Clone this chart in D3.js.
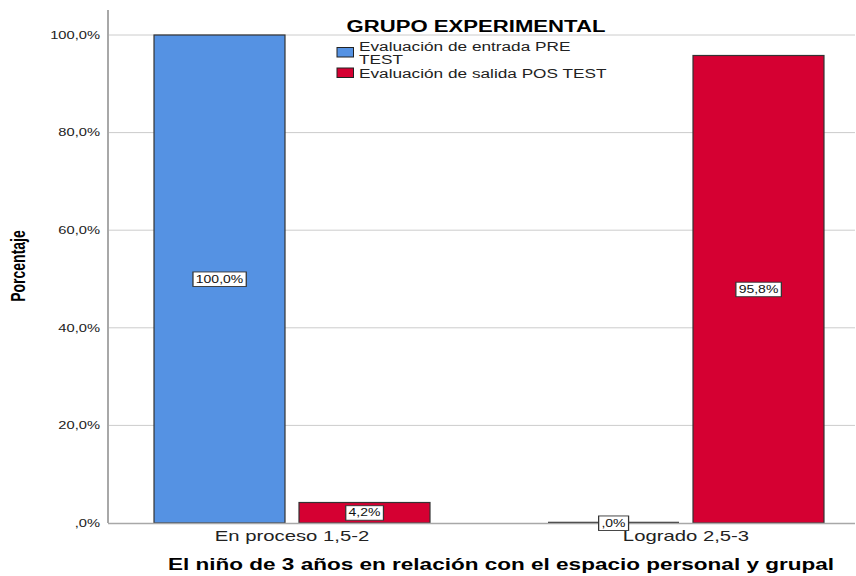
<!DOCTYPE html>
<html>
<head>
<meta charset="utf-8">
<script src="https://cdn.jsdelivr.net/npm/d3@7"></script>
<style>
body{margin:0;background:#fff;}
text{font-family:Arial,"Liberation Sans",sans-serif;}
</style>
</head>
<body>
<svg id="chart" width="856" height="576"></svg>
<script>
// data
const categories = ["En proceso 1,5-2", "Logrado 2,5-3"];
const series = ["Evaluación de entrada PRE TEST", "Evaluación de salida POS TEST"];
const pre_values = [100.0, 0.0];
const pos_values = [4.2, 95.8];
const y_ticks = [0, 20, 40, 60, 80, 100];

const color = {bar: ["#5592e3", "#d50032"], grid: "#cccccc", axis: "#a8a8a8"};

// the original export is stretched sideways, so text gets a horizontal scale
const k = 1.4;

const svg = d3.select('#chart');

// plot area
const plot = {left: 108, right: 855, top: 10, bottom: 523};

const yScale = d3.scaleLinear().domain([0, 100]).range([plot.bottom, 35]);

// outer band for categories, inner band for the two series
const xScale = d3.scaleBand().domain(categories).range([95, 883]).padding(0);
const xInner = d3.scaleBand().domain([0, 1]).range([0, xScale.bandwidth()])
    .paddingInner(0.0966).paddingOuter(0.407);

const fmt = v => d3.format(".1f")(v).replace(".", ",").replace(/^0,/, ",") + "%";

// gridlines
svg.append('g').selectAll('line').data(y_ticks.filter(d => d > 0)).enter()
    .append('line')
    .attr('x1', plot.left).attr('x2', plot.right)
    .attr('y1', d => yScale(d)).attr('y2', d => yScale(d))
    .style('stroke', color.grid).style('stroke-width', 1);

// y axis
const yAxis = svg.append('g')
    .attr('transform', `translate(${plot.left},0)`)
    .call(d3.axisLeft(yScale).tickValues(y_ticks).tickSize(0).tickPadding(8).tickFormat(fmt));
yAxis.select('.domain').remove();
yAxis.selectAll('text')
    .attr('x', -8 / k)
    .attr('transform', `scale(${k},1)`)
    .style('font-size', '10.5px').style('fill', '#222')
    .style('font-family', 'Arial, "Liberation Sans", sans-serif');

svg.append('line')
    .attr('x1', plot.left).attr('x2', plot.left).attr('y1', plot.top).attr('y2', plot.bottom)
    .style('stroke', color.axis).style('stroke-width', 2);

// bars
const rows = [];
categories.forEach((c, i) => {
    rows.push({cat: c, s: 0, v: pre_values[i]});
    rows.push({cat: c, s: 1, v: pos_values[i]});
});

const bars = svg.append('g');
bars.selectAll('rect').data(rows.filter(d => d.v > 0)).enter()
    .append('rect')
    .attr('x', d => xScale(d.cat) + xInner(d.s))
    .attr('y', d => yScale(d.v))
    .attr('width', xInner.bandwidth())
    .attr('height', d => yScale(0) - yScale(d.v))
    .style('fill', d => color.bar[d.s])
    .style('stroke', '#333').style('stroke-width', 1.2);

// zero-height bars drawn as a line
bars.selectAll('line').data(rows.filter(d => d.v === 0)).enter()
    .append('line')
    .attr('x1', d => xScale(d.cat) + xInner(d.s))
    .attr('x2', d => xScale(d.cat) + xInner(d.s) + xInner.bandwidth())
    .attr('y1', yScale(0) - 0.5).attr('y2', yScale(0) - 0.5)
    .style('stroke', '#333').style('stroke-width', 1.5);

// x baseline
svg.append('line')
    .attr('x1', plot.left).attr('x2', plot.right).attr('y1', plot.bottom + 0.5).attr('y2', plot.bottom + 0.5)
    .style('stroke', color.axis).style('stroke-width', 1.5);

// value labels
const lab = svg.append('g').selectAll('g').data(rows).enter().append('g')
    .attr('transform', d => `translate(${xScale(d.cat) + xInner(d.s) + xInner.bandwidth() / 2},${yScale(d.v / 2)}) scale(${k},1)`);
lab.append('text')
    .attr('text-anchor', 'middle').attr('dy', '0.35em')
    .style('font-size', '10px').style('fill', '#111')
    .text(d => fmt(d.v));
lab.each(function () {
    const g = d3.select(this);
    const bb = g.select('text').node().getBBox();
    g.insert('rect', 'text')
        .attr('x', bb.x - 2).attr('y', bb.y - 1.5)
        .attr('width', bb.width + 4).attr('height', bb.height + 3)
        .style('fill', '#fff').style('stroke', '#333').style('stroke-width', 0.9);
});

// category labels
const xAxis = svg.append('g')
    .attr('transform', `translate(0,${plot.bottom})`)
    .call(d3.axisBottom(xScale).tickSize(0).tickPadding(8));
xAxis.select('.domain').remove();
xAxis.selectAll('text')
    .attr('transform', `scale(${k},1)`)
    .style('font-size', '14.5px').style('fill', '#222')
    .style('font-family', 'Arial, "Liberation Sans", sans-serif');

// axis titles
svg.append('text')
    .attr('transform', `translate(501,570) scale(${k},1)`)
    .attr('text-anchor', 'middle')
    .style('font-size', '16.1px').style('font-weight', 'bold')
    .text('El niño de 3 años en relación con el espacio personal y grupal');

svg.append('text')
    .attr('transform', `translate(25,266) scale(${k},1) rotate(-90)`)
    .attr('text-anchor', 'middle')
    .style('font-size', '14px').style('font-weight', 'bold')
    .style('font-family', '"Liberation Sans Narrow", "Arial Narrow", sans-serif')
    .text('Porcentaje');

// legend
const legend = svg.append('g');
legend.append('text')
    .attr('transform', `translate(476,31.5) scale(${k},1)`)
    .attr('text-anchor', 'middle')
    .style('font-size', '15.8px').style('font-weight', 'bold')
    .text('GRUPO EXPERIMENTAL');

const legendLines = [["Evaluación de entrada PRE", "TEST"], ["Evaluación de salida POS TEST"]];
const legendY = [47.5, 68];
series.forEach((s, i) => {
    legend.append('rect')
        .attr('x', 337).attr('y', legendY[i])
        .attr('width', 16.5).attr('height', 9.5)
        .style('fill', color.bar[i]).style('stroke', '#222').style('stroke-width', 1);
    legendLines[i].forEach((t, j) => {
        legend.append('text')
            .attr('transform', `translate(359,${legendY[i] + 3.8 + j * 12.4 + (i === 1 ? 6.3 : 0)}) scale(${k},1)`)
            .style('font-size', '12.3px').style('fill', '#222')
            .text(t);
    });
});
</script>
</body>
</html>
